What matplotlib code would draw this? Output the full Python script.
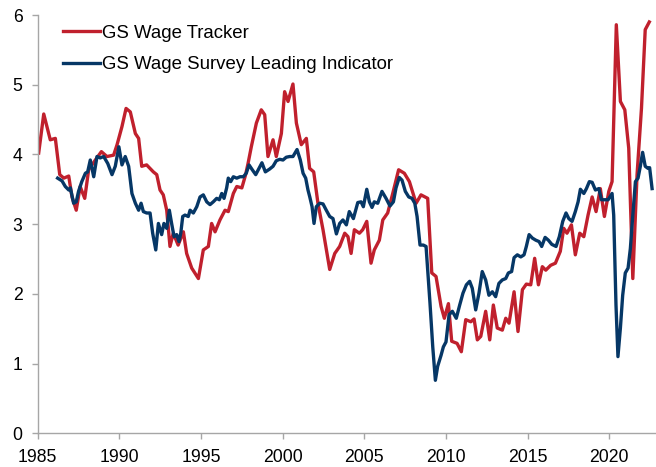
import matplotlib
matplotlib.use("Agg")
import matplotlib.pyplot as plt

# GS Wage Tracker (red)
tracker_dates = [1985.06, 1985.37, 1985.77, 1986.08, 1986.35, 1986.6, 1986.9, 1987.1, 1987.36, 1987.6,
                 1987.88, 1988.12, 1988.53, 1988.9, 1989.24, 1989.65, 1989.86, 1990.16, 1990.41, 1990.67,
                 1990.98, 1991.18, 1991.37, 1991.67, 1992.08, 1992.29, 1992.49, 1992.69, 1992.9, 1993.1,
                 1993.3, 1993.6, 1993.92, 1994.12, 1994.43, 1994.84, 1995.14, 1995.45, 1995.65, 1995.86,
                 1996.16, 1996.47, 1996.67, 1996.98, 1997.19, 1997.5, 1997.72, 1997.88, 1998.08, 1998.39,
                 1998.69, 1998.9, 1999.1, 1999.41, 1999.61, 1999.92, 2000.12, 2000.33, 2000.63, 2000.84,
                 2001.14, 2001.45, 2001.65, 2001.9, 2002.16, 2002.47, 2002.88, 2003.19, 2003.49, 2003.8,
                 2004.0, 2004.19, 2004.39, 2004.7, 2004.9, 2005.15, 2005.41, 2005.61, 2005.92, 2006.13,
                 2006.43, 2006.74, 2007.1, 2007.45, 2007.76, 2008.17, 2008.47, 2008.88, 2009.13, 2009.39,
                 2009.7, 2009.9, 2010.15, 2010.35, 2010.68, 2010.94, 2011.21, 2011.52, 2011.72, 2011.92,
                 2012.13, 2012.43, 2012.68, 2012.9, 2013.14, 2013.45, 2013.66, 2013.86, 2014.17, 2014.41,
                 2014.68, 2014.92, 2015.19, 2015.43, 2015.66, 2015.9, 2016.11, 2016.41, 2016.7, 2017.0,
                 2017.21, 2017.41, 2017.68, 2017.92, 2018.19, 2018.44, 2018.7, 2018.95, 2019.19, 2019.45,
                 2019.7, 2019.97, 2020.17, 2020.43, 2020.68, 2020.95, 2021.19, 2021.44, 2021.7, 2021.97,
                 2022.2, 2022.45]
tracker_values = [4.02, 4.58, 4.21, 4.23, 3.71, 3.66, 3.69, 3.39, 3.20, 3.54,
                  3.37, 3.78, 3.92, 4.04, 3.97, 3.99, 4.14, 4.40, 4.66, 4.61,
                  4.30, 4.23, 3.83, 3.85, 3.75, 3.71, 3.49, 3.42, 3.20, 2.68,
                  2.87, 2.70, 2.89, 2.58, 2.37, 2.22, 2.63, 2.68, 3.01, 2.89,
                  3.06, 3.20, 3.18, 3.44, 3.54, 3.52, 3.70, 3.87, 4.11, 4.45,
                  4.64, 4.57, 3.97, 4.21, 3.97, 4.30, 4.90, 4.76, 5.01, 4.45,
                  4.14, 4.23, 3.80, 3.75, 3.30, 2.92, 2.35, 2.58, 2.68, 2.87,
                  2.82, 2.58, 2.92, 2.87, 2.92, 3.04, 2.44, 2.63, 2.77, 3.06,
                  3.16, 3.44, 3.78, 3.73, 3.61, 3.30, 3.42, 3.37, 2.30, 2.25,
                  1.82, 1.65, 1.86, 1.32, 1.29, 1.17, 1.63, 1.60, 1.64, 1.34,
                  1.39, 1.75, 1.34, 1.84, 1.51, 1.48, 1.65, 1.58, 2.03, 1.46,
                  2.06, 2.14, 2.13, 2.51, 2.13, 2.39, 2.34, 2.41, 2.44, 2.61,
                  2.94, 2.87, 2.99, 2.56, 2.87, 2.82, 3.13, 3.39, 3.18, 3.51,
                  3.11, 3.47, 3.61, 5.86, 4.76, 4.64, 4.09, 2.22, 3.71, 4.66,
                  5.79, 5.90]

# GS Wage Survey Leading Indicator (navy)
survey_dates = [1986.22, 1986.49, 1986.69, 1986.9, 1987.0, 1987.2, 1987.36, 1987.5, 1987.7, 1987.92,
                1988.06, 1988.22, 1988.43, 1988.63, 1988.83, 1989.04, 1989.29, 1989.55, 1989.75, 1989.97,
                1990.16, 1990.36, 1990.57, 1990.77, 1990.98, 1991.18, 1991.33, 1991.47, 1991.67, 1991.88,
                1992.04, 1992.23, 1992.39, 1992.59, 1992.73, 1992.9, 1993.06, 1993.2, 1993.35, 1993.51,
                1993.65, 1993.76, 1993.88, 1994.02, 1994.22, 1994.33, 1994.53, 1994.74, 1994.94, 1995.14,
                1995.35, 1995.55, 1995.75, 1995.96, 1996.12, 1996.27, 1996.41, 1996.57, 1996.67, 1996.82,
                1996.98, 1997.19, 1997.39, 1997.59, 1997.77, 1997.94, 1998.14, 1998.35, 1998.55, 1998.73,
                1998.94, 1999.2, 1999.41, 1999.61, 1999.82, 2000.02, 2000.22, 2000.43, 2000.63, 2000.88,
                2001.08, 2001.25, 2001.41, 2001.55, 2001.66, 2001.8, 2001.92, 2002.06, 2002.27, 2002.47,
                2002.67, 2002.88, 2003.08, 2003.29, 2003.49, 2003.69, 2003.9, 2004.08, 2004.33, 2004.6,
                2004.8, 2004.94, 2005.15, 2005.31, 2005.47, 2005.61, 2005.82, 2006.08, 2006.33, 2006.57,
                2006.78, 2006.94, 2007.14, 2007.31, 2007.51, 2007.72, 2007.92, 2008.09, 2008.23, 2008.41,
                2008.61, 2008.78, 2008.88, 2009.02, 2009.19, 2009.35, 2009.49, 2009.7, 2009.84, 2010.0,
                2010.19, 2010.39, 2010.63, 2010.84, 2011.04, 2011.25, 2011.45, 2011.61, 2011.82, 2012.02,
                2012.22, 2012.43, 2012.63, 2012.84, 2013.04, 2013.24, 2013.45, 2013.66, 2013.82, 2014.02,
                2014.17, 2014.37, 2014.58, 2014.78, 2014.92, 2015.09, 2015.29, 2015.5, 2015.7, 2015.86,
                2016.07, 2016.27, 2016.48, 2016.74, 2016.94, 2017.15, 2017.35, 2017.52, 2017.72, 2017.92,
                2018.09, 2018.23, 2018.44, 2018.6, 2018.78, 2018.95, 2019.15, 2019.36, 2019.52, 2019.73,
                2019.93, 2020.17, 2020.27, 2020.41, 2020.53, 2020.68, 2020.82, 2020.98, 2021.15, 2021.29,
                2021.44, 2021.6, 2021.76, 2021.9, 2022.04, 2022.2, 2022.37, 2022.47, 2022.62]
survey_values = [3.66, 3.62, 3.54, 3.49, 3.52, 3.30, 3.32, 3.47, 3.61, 3.73,
                 3.75, 3.92, 3.68, 3.97, 3.95, 3.97, 3.87, 3.71, 3.83, 4.11,
                 3.85, 3.97, 3.83, 3.44, 3.30, 3.20, 3.30, 3.18, 3.16, 3.16,
                 2.87, 2.63, 3.01, 2.85, 3.01, 2.94, 3.20, 3.01, 2.82, 2.85,
                 2.75, 2.87, 3.11, 3.13, 3.11, 3.20, 3.16, 3.25, 3.39, 3.42,
                 3.32, 3.28, 3.32, 3.37, 3.35, 3.44, 3.37, 3.52, 3.66, 3.61,
                 3.68, 3.66, 3.68, 3.68, 3.73, 3.85, 3.78, 3.71, 3.80, 3.88,
                 3.75, 3.79, 3.83, 3.91, 3.93, 3.92, 3.96, 3.97, 3.97, 4.07,
                 3.92, 3.73, 3.66, 3.49, 3.39, 3.25, 3.01, 3.25, 3.30, 3.29,
                 3.20, 3.11, 3.08, 2.86, 3.01, 3.06, 2.99, 3.18, 3.08, 3.31,
                 3.32, 3.25, 3.50, 3.32, 3.24, 3.32, 3.30, 3.47, 3.37, 3.26,
                 3.32, 3.52, 3.67, 3.63, 3.47, 3.39, 3.37, 3.30, 3.11, 2.70,
                 2.70, 2.68, 2.34, 1.87, 1.24, 0.76, 0.96, 1.12, 1.24, 1.31,
                 1.70, 1.75, 1.65, 1.84, 2.01, 2.13, 2.18, 2.08, 1.77, 2.01,
                 2.32, 2.20, 1.98, 2.03, 1.96, 2.15, 2.20, 2.22, 2.30, 2.32,
                 2.52, 2.56, 2.53, 2.56, 2.68, 2.85, 2.80, 2.77, 2.75, 2.68,
                 2.81, 2.77, 2.71, 2.68, 2.82, 3.04, 3.16, 3.08, 3.04, 3.18,
                 3.32, 3.50, 3.44, 3.51, 3.61, 3.60, 3.49, 3.51, 3.35, 3.35,
                 3.35, 3.44, 3.13, 1.84, 1.10, 1.51, 1.98, 2.30, 2.37, 2.65,
                 3.13, 3.61, 3.66, 3.83, 4.03, 3.83, 3.80, 3.81, 3.51]

x_ticks = [1985, 1990, 1995, 2000, 2005, 2010, 2015, 2020]
y_ticks = [0, 1, 2, 3, 4, 5, 6]

RED = "#C0202D"
NAVY = "#063766"
GRAY = "#A6A6A6"

plt.rcParams['font.family'] = ['Liberation Sans', 'DejaVu Sans']

fig = plt.figure(figsize=(6.56, 4.67), dpi=100)
ax = fig.add_axes([37.7 / 656, 33.7 / 467, (656 - 37.7) / 656, (433.3 - 15) / 467])

ax.plot(tracker_dates, tracker_values, color=RED, lw=2.4, solid_joinstyle='round',
        label="GS Wage Tracker")
ax.plot(survey_dates, survey_values, color=NAVY, lw=2.4, solid_joinstyle='round',
        label="GS Wage Survey Leading Indicator")

ax.set_xlim(1985, 2022.86)
ax.set_ylim(0, 6)
ax.set_xticks(x_ticks)
ax.set_yticks(y_ticks)

for s in ['top', 'right']:
    ax.spines[s].set_visible(False)
for s in ['left', 'bottom']:
    ax.spines[s].set_color(GRAY)
    ax.spines[s].set_linewidth(1.0)

ax.tick_params(axis='both', colors=GRAY, labelcolor='black', labelsize=12.7, length=4, width=1.0)
ax.tick_params(axis='y', pad=7)
ax.tick_params(axis='x', pad=7)

leg = ax.legend(loc='upper left', bbox_to_anchor=(0.0284, 0.995), frameon=False,
                fontsize=13.4, handlelength=2.0, handletextpad=0.13, labelspacing=0.8,
                borderaxespad=0.0)

fig.savefig("out.png", dpi=100)
